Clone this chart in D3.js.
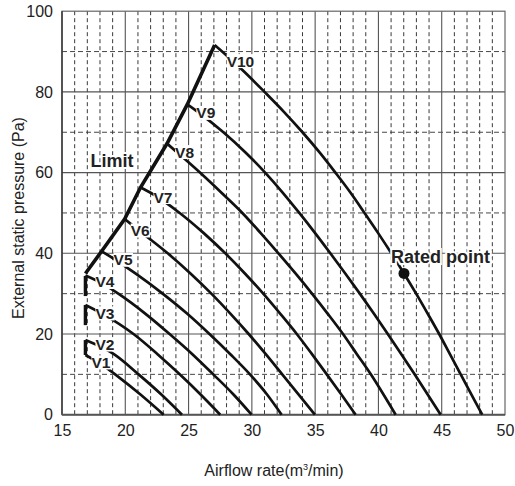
<!DOCTYPE html>
<html><head><meta charset="utf-8">
<script src="https://cdn.jsdelivr.net/npm/d3@7"></script>
<style>
body{margin:0;background:#fff}
svg{display:block}
text{font-family:"Liberation Sans",Arial,Helvetica,sans-serif}
</style>
</head><body>
<svg id="chart" width="515" height="486"></svg>
<script>
// ---------- data ----------
const xTicks = [15, 20, 25, 30, 35, 40, 45, 50];
const yTicks = [0, 20, 40, 60, 80, 100];
const curveNames = ["V1","V2","V3","V4","V5","V6","V7","V8","V9","V10"];

// [airflow, pressure] pairs
const V1 = [[16.85,14.8],[18.35,12],[19.2,10],[21.2,5],[23.03,0]];
const V2 = [[16.85,18.5],[19.1,15],[21.05,10],[22.85,5],[24.48,0]];
const V3 = [[16.85,27.2],[18.2,25],[20.65,20],[22.55,15],[24.3,10],[25.95,5],[27.5,0]];
const V4 = [[16.85,34.5],[18.2,32.5],[19.45,30],[21.6,25],[23.5,20],[25.3,15],[26.95,10],[28.55,5],[29.98,0]];
const V5 = [[18.13,40.5],[18.4,40],[20.8,35],[22.95,30],[24.9,25],[26.65,20],[28.3,15],[29.85,10],[31.2,5],[32.35,0]];
const V6 = [[19.95,48.5],[21.35,45],[23.35,40],[25.15,35],[26.8,30],[28.32,25],[29.75,20],[31.1,15],[32.4,10],[33.7,5],[34.98,0]];
const V7 = [[21.2,56.3],[22.0,55],[24.3,50],[26.2,45],[27.9,40],[29.45,35],[30.9,30],[32.25,25],[33.55,20],[34.75,15],[35.92,10],[37.07,5],[38.2,0]];
const V8 = [[23.3,67.2],[24.1,65],[25.9,60],[27.6,55],[29.25,50],[30.7,45],[32.1,40],[33.45,35],[34.75,30],[36.0,25],[37.2,20],[38.3,15],[39.4,10],[40.4,5],[41.36,0]];
const V9 = [[24.9,76.9],[25.75,75],[27.75,70],[29.5,65],[31.05,60],[32.45,55],[33.75,50],[35.0,45],[36.2,40],[37.38,35],[38.53,30],[39.65,25],[40.74,20],[41.81,15],[42.86,10],[43.89,5],[44.92,0]];
const V10 = [[27.06,91.6],[27.65,90],[29.4,85],[31.0,80],[32.55,75],[34.0,70],[35.35,65],[36.6,60],[37.8,55],[38.9,50],[39.98,45],[41.02,40],[42.02,35],[42.98,30],[43.9,25],[44.8,20],[45.65,15],[46.5,10],[47.35,5],[48.2,0]];
const curves = [V1,V2,V3,V4,V5,V6,V7,V8,V9,V10];

const limitLine = [[16.85,35],[18.13,40.5],[19.95,48.5],[21.2,56.3],[23.3,67.2],[24.9,76.9],[27.06,91.6]];
const limitBars = [[14.8,18.5],[22.2,27.2],[29.4,34.4]];
const limitBarX = 16.85;
const ratedPoint = [42.02, 35];
const limitLabelPos = [17.25, 61.5];
const ratedLabelPos = [41.0, 37.7];

// ---------- layout ----------
const svg = d3.select("#chart");
const x = d3.scaleLinear().domain([15,50]).range([62,505]);
const y = d3.scaleLinear().domain([0,100]).range([414.7,11.2]);
// label offsets (px) from curve start
const labelOffsets = [[6,13],[10,10],[10,14],[10,12],[12,14],[6,17],[13,15],[8,14],[9,14],[12,21.5]];

const g = svg.append("g");

// minor grid
const minorX = d3.range(16,50).filter(v => v % 5 !== 0);
g.selectAll(".mx").data(minorX).enter().append("line")
  .attr("x1", d=>x(d)).attr("x2", d=>x(d)).attr("y1", y(100)).attr("y2", y(0))
  .attr("stroke","#222").attr("stroke-width",0.9).attr("stroke-dasharray","4,3");
const minorY = [10,30,50,70,90];
g.selectAll(".my").data(minorY).enter().append("line")
  .attr("x1", x(15)).attr("x2", x(50)).attr("y1", d=>y(d)).attr("y2", d=>y(d))
  .attr("stroke","#333").attr("stroke-width",0.9).attr("stroke-dasharray","5,3");
// major grid
g.selectAll(".Mx").data(xTicks.slice(1,-1)).enter().append("line")
  .attr("x1", d=>x(d)).attr("x2", d=>x(d)).attr("y1", y(100)).attr("y2", y(0))
  .attr("stroke","#555").attr("stroke-width",1.1);
g.selectAll(".My").data(yTicks.slice(1,-1)).enter().append("line")
  .attr("x1", x(15)).attr("x2", x(50)).attr("y1", d=>y(d)).attr("y2", d=>y(d))
  .attr("stroke","#555").attr("stroke-width",1.1);
// frame
g.append("rect").attr("x",x(15)).attr("y",y(100)).attr("width",x(50)-x(15)).attr("height",y(0)-y(100))
  .attr("fill","none").attr("stroke","#666").attr("stroke-width",1.2);
g.append("line").attr("x1",x(15)).attr("x2",x(15)).attr("y1",y(100)).attr("y2",y(0)).attr("stroke","#333").attr("stroke-width",1.4);
g.append("line").attr("x1",x(15)).attr("x2",x(50)).attr("y1",y(0)).attr("y2",y(0)).attr("stroke","#555").attr("stroke-width",2);

// curves
const line = d3.line().x(d=>x(d[0])).y(d=>y(d[1])).curve(d3.curveMonotoneX);
g.selectAll(".curve").data(curves).enter().append("path")
  .attr("d", line).attr("fill","none").attr("stroke","#111").attr("stroke-width",2.7)
  .attr("stroke-linecap","butt");

// limit line
g.append("path").attr("d", d3.line().x(d=>x(d[0])).y(d=>y(d[1]))(limitLine))
  .attr("fill","none").attr("stroke","#111").attr("stroke-width",3.6).attr("stroke-linejoin","miter");
g.selectAll(".bar").data(limitBars).enter().append("line")
  .attr("x1",x(limitBarX)).attr("x2",x(limitBarX)).attr("y1",d=>y(d[0])).attr("y2",d=>y(d[1]))
  .attr("stroke","#111").attr("stroke-width",3.4);

// curve labels with knockout
curves.forEach((c,i) => {
  const sx = x(c[0][0]) + labelOffsets[i][0], sy = y(c[0][1]) + labelOffsets[i][1];
  const lg = g.append("g");
  const rect = lg.append("rect").attr("fill","#fff");
  const t = lg.append("text").attr("x",sx).attr("y",sy).text(curveNames[i])
    .attr("font-size",15.5).attr("font-weight","bold").attr("fill","#222");
  const b = t.node().getBBox();
  rect.attr("x",b.x).attr("y",b.y+1.5).attr("width",b.width).attr("height",b.height-3);
});

// Limit label
g.append("text").attr("x",x(limitLabelPos[0])).attr("y",y(limitLabelPos[1])).text("Limit")
  .attr("font-size",18).attr("font-weight","bold").attr("fill","#222")
  .attr("stroke","#fff").attr("stroke-width",4).attr("paint-order","stroke");

// rated point
g.append("circle").attr("cx",x(ratedPoint[0])).attr("cy",y(ratedPoint[1])).attr("r",5.5).attr("fill","#111");
g.append("text").attr("x",x(ratedLabelPos[0])).attr("y",y(ratedLabelPos[1])).text("Rated point")
  .attr("font-size",18).attr("font-weight","bold").attr("fill","#222")
  .attr("stroke","#fff").attr("stroke-width",4).attr("paint-order","stroke");

// axes
const xa = svg.append("g").attr("transform",`translate(0,${y(0)})`)
  .call(d3.axisBottom(x).tickValues(xTicks).tickSize(0).tickPadding(10).tickFormat(d3.format("d")));
xa.select(".domain").remove();
xa.selectAll("text").attr("font-size",16).attr("fill","#222").attr("font-family",null);
const ya = svg.append("g").attr("transform",`translate(${x(15)},0)`)
  .call(d3.axisLeft(y).tickValues(yTicks).tickSize(0).tickPadding(9).tickFormat(d3.format("d")));
ya.select(".domain").remove();
ya.selectAll("text").attr("font-size",16).attr("fill","#222").attr("font-family",null);

// titles
const xt = svg.append("text").attr("x",274).attr("y",476).attr("text-anchor","middle")
  .attr("font-size",16).attr("fill","#222");
xt.append("tspan").text("Airflow rate(m");
xt.append("tspan").text("3").attr("font-size",9).attr("dy",-6);
xt.append("tspan").text("/min)").attr("dy",6);
svg.append("text").attr("transform","translate(24,218) rotate(-90)").attr("text-anchor","middle")
  .attr("font-size",16).attr("fill","#222").text("External static pressure (Pa)");
</script>
</body></html>
